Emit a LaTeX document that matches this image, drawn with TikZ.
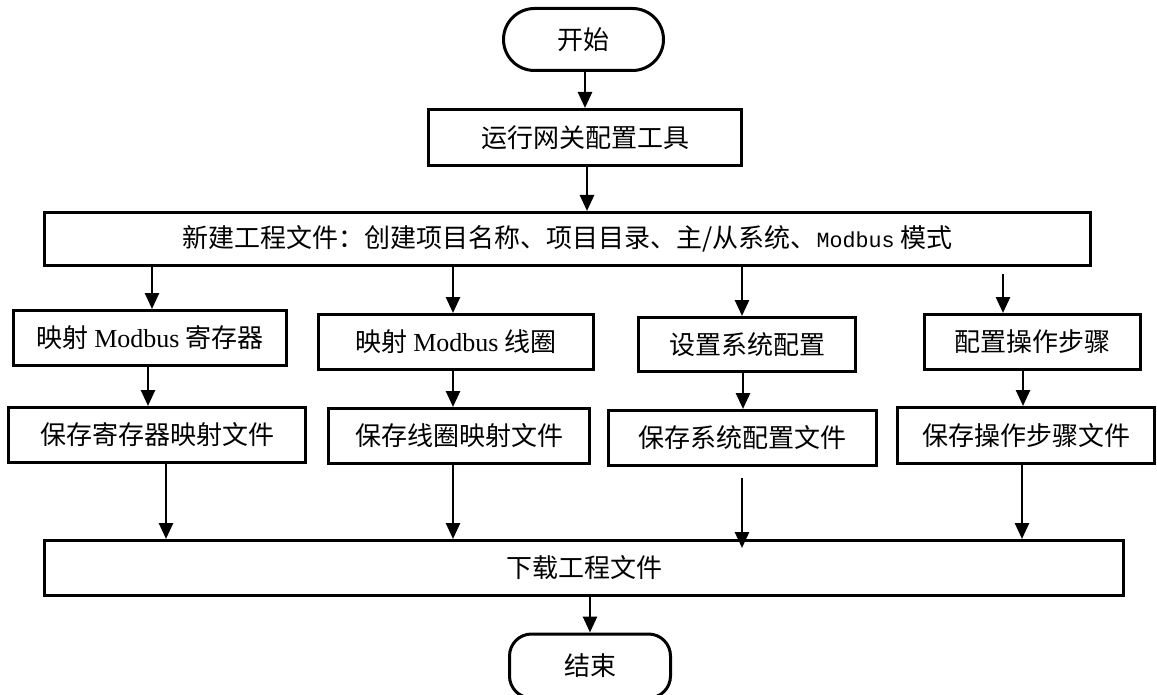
\documentclass[tikz,border=0pt]{standalone}
\usepackage{fontspec}
\setmainfont{Liberation Serif}
\newfontfamily\cjk{Noto Sans CJK SC}
\newfontfamily\tnr{Liberation Serif}
\newfontfamily\monofam{Liberation Mono}
\usetikzlibrary{arrows.meta}
\tikzset{
  box/.style={draw, line width=3pt, inner sep=0pt, font=\cjk\fontsize{26}{30}\selectfont},
  term/.style={box, rounded corners=31pt},
  arr/.style={line width=2.6pt, -{Triangle[width=14pt,length=16pt]}},
}
\begin{document}
\begin{tikzpicture}[x=1pt,y=-1pt]
\useasboundingbox (0,0) rectangle (1157,695);
% nodes
\node[term, minimum width=160pt, minimum height=62pt] (start) at (583.5,39.5) {开始};
\node[box, minimum width=313pt, minimum height=56pt] (run) at (585,137.5) {运行网关配置工具};
\node[box, minimum width=1046pt, minimum height=53pt] (new) at (567.5,239)
  {新建工程文件：创建项目名称、项目目录、主/从系统、{\monofam\fontsize{21.7}{26}\selectfont Modbus} 模式};
\node[box, minimum width=273pt, minimum height=55pt] (r1a) at (150,338) {映射 {\tnr Modbus} 寄存器};
\node[box, minimum width=275pt, minimum height=55pt] (r1b) at (456,342) {映射 {\tnr Modbus} 线圈};
\node[box, minimum width=217pt, minimum height=54pt] (r1c) at (747,344.5) {设置系统配置};
\node[box, minimum width=216pt, minimum height=55pt] (r1d) at (1032.5,342) {配置操作步骤};
\node[box, minimum width=297pt, minimum height=55pt] (r2a) at (157,435) {保存寄存器映射文件};
\node[box, minimum width=261pt, minimum height=55pt] (r2b) at (459,436) {保存线圈映射文件};
\node[box, minimum width=268pt, minimum height=55pt] (r2c) at (742.5,438) {保存系统配置文件};
\node[box, minimum width=257pt, minimum height=56pt] (r2d) at (1026,435.5) {保存操作步骤文件};
\node[box, minimum width=1079pt, minimum height=55pt] (down) at (584,568) {下载工程文件};
\node[box, rounded corners=22pt, minimum width=161pt, minimum height=64pt] (stop) at (590,666) {结束};
% arrow columns
\coordinate (xs) at (585,0);
\coordinate (xr) at (587,0);
\coordinate (x1t) at (152,0);
\coordinate (x1m) at (148,0);
\coordinate (x1b) at (166,0);
\coordinate (x2) at (453,0);
\coordinate (x3t) at (742,0);
\coordinate (x3m) at (743,0);
\coordinate (x4t) at (1003,0);
\coordinate (x4m) at (1023,0);
\coordinate (x4b) at (1022,0);
\coordinate (x5) at (590,0);
% connectors
\draw[arr] (xs |- start.south) -- (xs |- run.north);
\draw[arr] (xr |- run.south) -- (xr |- new.north);
\draw[arr] (x1t |- new.south) -- (x1t |- r1a.north);
\draw[arr] (x2 |- new.south) -- (x2 |- r1b.north);
\draw[arr] (x3t |- new.south) -- (x3t |- r1c.north);
\draw[arr, shorten <=7pt] (x4t |- new.south) -- (x4t |- r1d.north);
\draw[arr] (x1m |- r1a.south) -- (x1m |- r2a.north);
\draw[arr] (x2 |- r1b.south) -- (x2 |- r2b.north);
\draw[arr] (x3m |- r1c.south) -- (x3m |- r2c.north);
\draw[arr] (x4m |- r1d.south) -- (x4m |- r2d.north);
\draw[arr] (x1b |- r2a.south) -- (x1b |- down.north);
\draw[arr] (x2 |- r2b.south) -- (x2 |- down.north);
\draw[arr, shorten <=11pt, shorten >=-9pt] (x3t |- r2c.south) -- (x3t |- down.north);
\draw[arr] (x4b |- r2d.south) -- (x4b |- down.north);
\draw[arr] (x5 |- down.south) -- (x5 |- stop.north);
\end{tikzpicture}
\end{document}
